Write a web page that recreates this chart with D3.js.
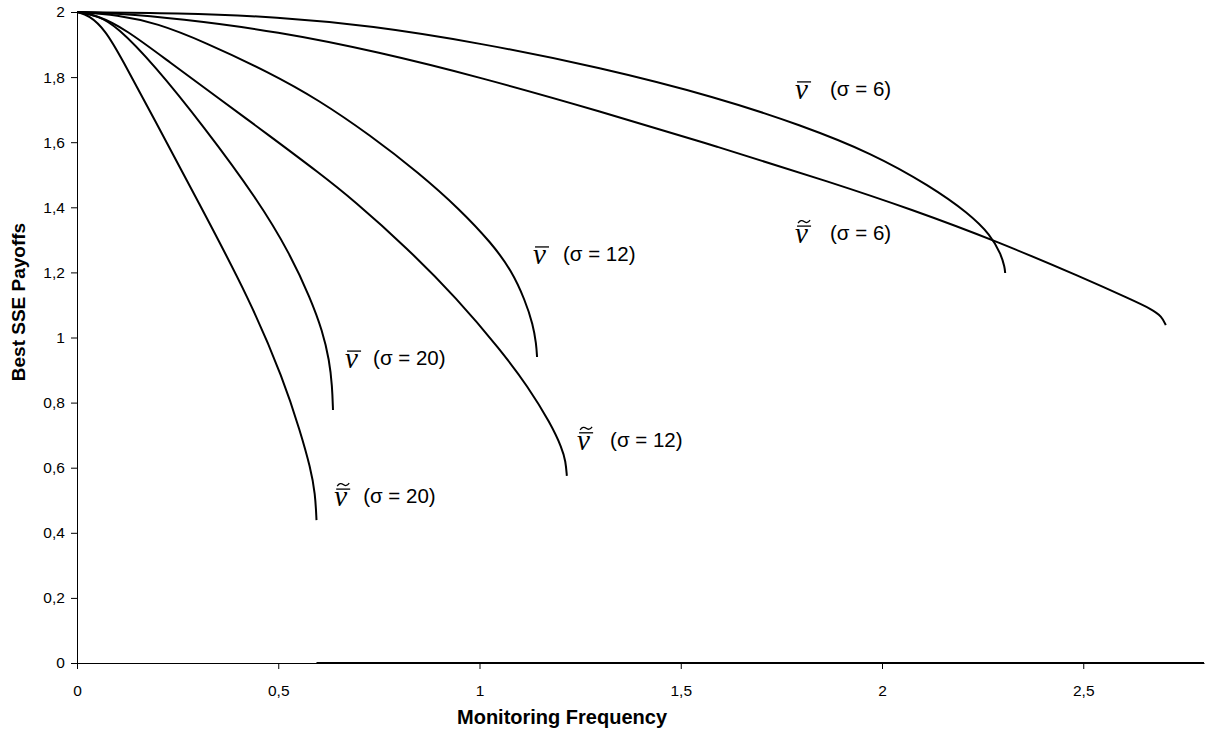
<!DOCTYPE html>
<html>
<head>
<meta charset="utf-8">
<script src="https://cdn.jsdelivr.net/npm/d3@7"></script>
<style>
  html, body { margin: 0; padding: 0; background: #fff; }
  svg { display: block; }
</style>
</head>
<body>
<svg id="chart" width="1207" height="734"></svg>
<script>
// ---------- data ----------
const xTicks = [0, 0.5, 1, 1.5, 2, 2.5];
const yTicks = [0, 0.2, 0.4, 0.6, 0.8, 1, 1.2, 1.4, 1.6, 1.8, 2];

// v-bar, sigma = 6
const vbar6X = [0, 0.25, 0.5, 0.73, 1.0, 1.3, 1.59, 1.8, 1.975, 2.12, 2.215, 2.27, 2.296, 2.305, 2.306];
const vbar6Y = [2, 1.997, 1.985, 1.958, 1.905, 1.83, 1.738, 1.652, 1.566, 1.465, 1.382, 1.315, 1.255, 1.215, 1.198];

// v-tilde, sigma = 6
const vtil6X = [0, 0.1, 0.25, 0.5, 0.75, 1.0, 1.3, 1.59, 1.88, 2.07, 2.285, 2.5, 2.62, 2.67, 2.695, 2.705];
const vtil6Y = [2, 1.996, 1.98, 1.94, 1.877, 1.80, 1.695, 1.587, 1.474, 1.395, 1.296, 1.183, 1.116, 1.087, 1.065, 1.038];

// v-bar, sigma = 12
const vbar12X = [0, 0.1, 0.2, 0.313, 0.48, 0.6, 0.728, 0.85, 0.95, 1.03, 1.08, 1.113, 1.133, 1.141, 1.143];
const vbar12Y = [2, 1.992, 1.965, 1.91, 1.813, 1.73, 1.622, 1.505, 1.395, 1.29, 1.205, 1.115, 1.04, 0.98, 0.94];

// v-tilde, sigma = 12
const vtil12X = [0, 0.05, 0.12, 0.231, 0.35, 0.48, 0.6, 0.687, 0.82, 0.944, 1.052, 1.12, 1.177, 1.205, 1.214, 1.217];
const vtil12Y = [2, 1.99, 1.948, 1.845, 1.737, 1.618, 1.507, 1.422, 1.275, 1.12, 0.962, 0.85, 0.735, 0.66, 0.62, 0.575];

// v-bar, sigma = 20
const vbar20X = [0, 0.05, 0.1, 0.19, 0.314, 0.451, 0.53, 0.58, 0.61, 0.627, 0.634, 0.636];
const vbar20Y = [2, 1.99, 1.955, 1.84, 1.65, 1.42, 1.255, 1.12, 1.02, 0.93, 0.85, 0.777];

// v-tilde, sigma = 20
const vtil20X = [0, 0.03, 0.07, 0.11, 0.19, 0.30, 0.43, 0.513, 0.555, 0.58, 0.592, 0.595];
const vtil20Y = [2, 1.99, 1.945, 1.86, 1.675, 1.42, 1.115, 0.87, 0.71, 0.6, 0.52, 0.439];

// series lying on the horizontal axis
const zeroX = [0.595, 2.8];
const zeroY = [0, 0];

// labels: symbol type, anchor (data coords), text
const labelKind  = ["bar", "tilde", "bar", "bar", "tilde", "tilde"];
const labelX     = [1.784, 1.784, 1.133, 0.666, 1.2425, 0.639];
const labelY     = [1.733, 1.29, 1.226, 0.906, 0.655, 0.482];
const labelText  = ["(σ = 6)", "(σ = 6)", "(σ = 12)", "(σ = 20)", "(σ = 12)", "(σ = 20)"];
const labelGap   = [35, 35, 30, 28, 33, 29];

// ---------- layout ----------
const svg = d3.select("#chart");
const x = d3.scaleLinear().domain([0, 2.8]).range([77, 1204]);
const y = d3.scaleLinear().domain([0, 2]).range([663, 12]);
const fmt = d => String(d).replace(".", ",");

// axes
const xAxis = svg.append("g").attr("transform", `translate(0,${y(0)})`)
  .call(d3.axisBottom(x).tickValues(xTicks).tickFormat(fmt).tickSize(6).tickSizeOuter(0));
const yAxis = svg.append("g").attr("transform", `translate(${x(0)},0)`)
  .call(d3.axisLeft(y).tickValues(yTicks).tickFormat(fmt).tickSize(6).tickSizeOuter(0));
[xAxis, yAxis].forEach(g => {
  g.select(".domain").attr("stroke", "#000").attr("stroke-width", 1);
  g.selectAll(".tick line").attr("stroke", "#000");
  g.selectAll(".tick text").attr("fill", "#000")
    .attr("font-family", "'Liberation Sans', Arial, sans-serif").attr("font-size", 15.5);
});
xAxis.selectAll(".tick text").attr("dy", "1.55em");
yAxis.selectAll(".tick text").attr("dx", "-0.2em");

// curves
const series = [
  [vbar6X, vbar6Y], [vtil6X, vtil6Y], [vbar12X, vbar12Y],
  [vtil12X, vtil12Y], [vbar20X, vbar20Y], [vtil20X, vtil20Y]
];
const line = d3.line().x(d => x(d[0])).y(d => y(d[1])).curve(d3.curveBasis);
series.forEach(([xs, ys]) => {
  svg.append("path")
    .datum(xs.map((v, i) => [v, ys[i]]))
    .attr("d", line).attr("fill", "none").attr("stroke", "#000").attr("stroke-width", 2);
});
svg.append("path")
  .datum(zeroX.map((v, i) => [v, zeroY[i]]))
  .attr("d", d3.line().x(d => x(d[0])).y(d => y(d[1])))
  .attr("fill", "none").attr("stroke", "#000").attr("stroke-width", 2);

// labels
labelKind.forEach((k, i) => {
  const px = x(labelX[i]), py = y(labelY[i]);
  const g = svg.append("g");
  g.append("text").attr("x", px).attr("y", py)
    .attr("font-family", "'Liberation Serif', 'Times New Roman', serif")
    .attr("font-style", "italic").attr("font-size", 29).attr("fill", "#000").text("v");
  g.append("line").attr("x1", px + 2).attr("x2", px + 16)
    .attr("y1", py - 17).attr("y2", py - 17).attr("stroke", "#000").attr("stroke-width", 1.3);
  if (k === "tilde") {
    g.append("path")
      .attr("d", `M${px + 3},${py - 20} q3,-4 6,-1.5 t6,-1.5`)
      .attr("fill", "none").attr("stroke", "#000").attr("stroke-width", 1.3);
  }
  g.append("text").attr("x", px + labelGap[i]).attr("y", py - 3)
    .attr("font-family", "'Liberation Sans', Arial, sans-serif")
    .attr("font-size", 20.5).attr("fill", "#000").text(labelText[i]);
});

// axis titles
svg.append("text").attr("x", 562).attr("y", 724).attr("text-anchor", "middle")
  .attr("font-family", "'Liberation Sans', Arial, sans-serif").attr("font-weight", "bold")
  .attr("font-size", 20).text("Monitoring Frequency");
svg.append("text").attr("transform", "translate(25,302) rotate(-90)").attr("text-anchor", "middle")
  .attr("font-family", "'Liberation Sans', Arial, sans-serif").attr("font-weight", "bold")
  .attr("font-size", 19).text("Best SSE Payoffs");
</script>
</body>
</html>
